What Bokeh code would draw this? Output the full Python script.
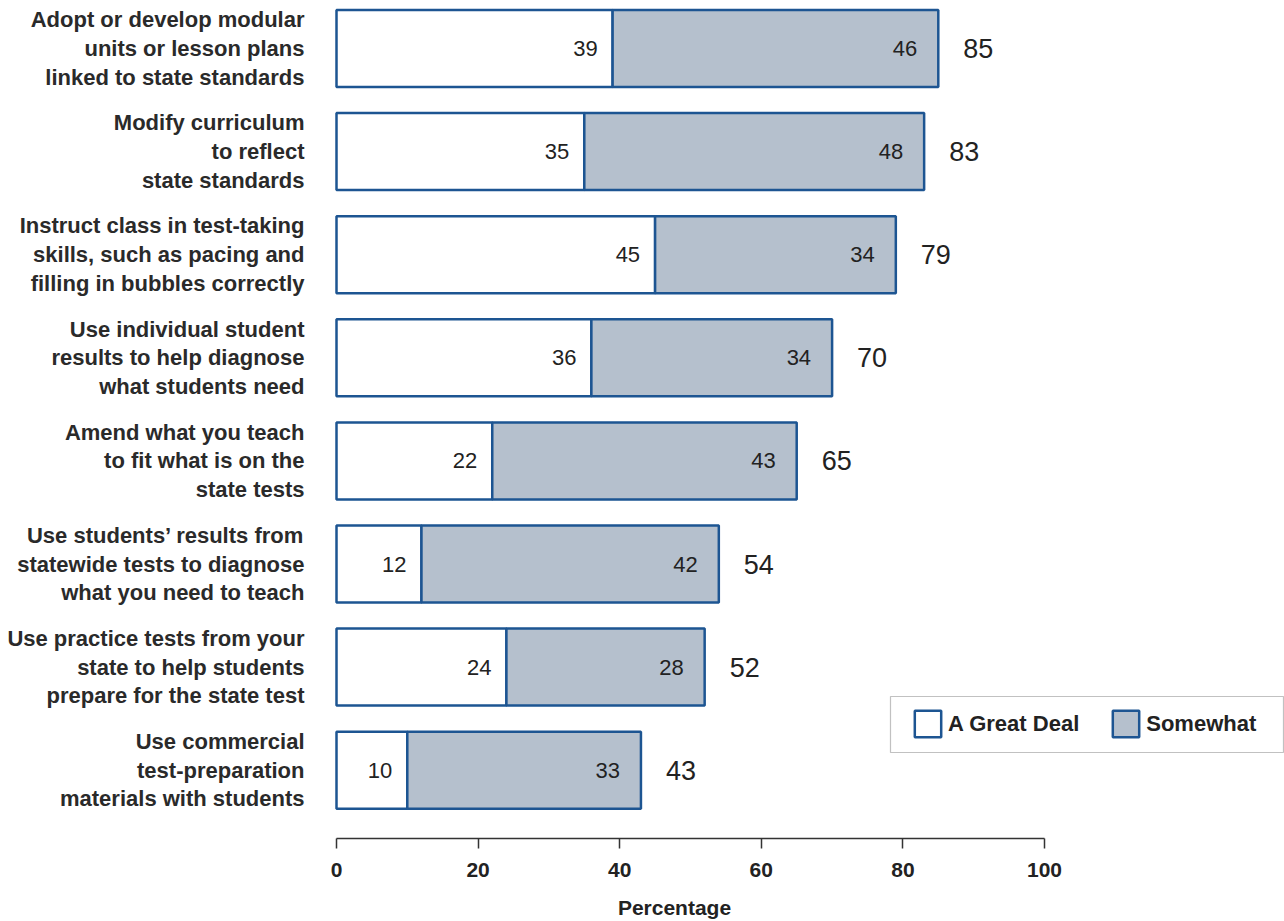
from bokeh.plotting import figure
from bokeh.models import (Range1d, FixedTicker, ColumnDataSource, Legend, LegendItem,
                          BoxAnnotation, LinearAxis)
from bokeh.core.properties import value
from bokeh.embed import file_html
from bokeh.resources import INLINE

categories = [
    "Adopt or develop modular\nunits or lesson plans\nlinked to state standards",
    "Modify curriculum\nto reflect\nstate standards",
    "Instruct class in test-taking\nskills, such as pacing and\nfilling in bubbles correctly",
    "Use individual student\nresults to help diagnose\nwhat students need",
    "Amend what you teach\nto fit what is on the\nstate tests",
    "Use students\u2019 results from\nstatewide tests to diagnose\nwhat you need to teach",
    "Use practice tests from your\nstate to help students\nprepare for the state test",
    "Use commercial\ntest-preparation\nmaterials with students",
]
great_deal = [39, 35, 45, 36, 22, 12, 24, 10]
somewhat = [46, 48, 34, 34, 43, 42, 28, 33]
totals = [85, 83, 79, 70, 65, 54, 52, 43]
x_ticks = [0, 20, 40, 60, 80, 100]
x_title = "Percentage"

FONT = "Liberation Sans"
BLUE = "#1d5592"
GREY = "#b5c0cd"
TXT = "#222222"

W, H = 1284, 921
frame_bottom = 838
x0_px, px_per = 336, 7.08
row0_px, row_step = 48, 103.1

rows = list(range(len(categories)))
src = ColumnDataSource(dict(
    y=rows,
    gd=great_deal,
    sw_right=[g + s for g, s in zip(great_deal, somewhat)],
    gd_lbl=[str(v) for v in great_deal],
    sw_lbl=[str(v) for v in somewhat],
    tot=totals,
    tot_lbl=[str(v) for v in totals],
    cat=categories,
    zero=[0] * len(rows),
))

x_start = -x0_px / px_per
x_end = (W - x0_px) / px_per
y_top = -row0_px / row_step
y_bot = (frame_bottom - row0_px) / row_step

def px_to_x(px):
    return (px - x0_px) / px_per

def px_to_y(py):
    return (py - row0_px) / row_step

p = figure(width=W, height=H, output_backend="svg", toolbar_location=None,
           x_range=Range1d(x_start, x_end), y_range=Range1d(y_bot, y_top),
           y_axis_location=None, min_border_left=0, min_border_right=0,
           min_border_top=0, min_border_bottom=H - frame_bottom)
p.outline_line_color = None
p.grid.visible = False
p.background_fill_color = "white"
p.border_fill_color = "white"

bh = 77 / row_step
r1 = p.hbar(y="y", left="zero", right="gd", height=bh, source=src,
            fill_color="white", line_color=BLUE, line_width=2.5)
r2 = p.hbar(y="y", left="gd", right="sw_right", height=bh, source=src,
            fill_color=GREY, line_color=BLUE, line_width=2.5)

p.text(x="gd", y="y", text="gd_lbl", source=src, x_offset=-15,
       text_align="right", text_baseline="middle", text_font=value(FONT),
       text_font_size="22px", text_color=TXT)
p.text(x="sw_right", y="y", text="sw_lbl", source=src, x_offset=-21,
       text_align="right", text_baseline="middle", text_font=value(FONT),
       text_font_size="22px", text_color=TXT)
p.text(x="tot", y="y", text="tot_lbl", source=src, x_offset=25,
       text_align="left", text_baseline="middle", text_font=value(FONT),
       text_font_size="27px", text_color=TXT)
p.text(x="zero", y="y", text="cat", source=src, x_offset=-32,
       text_align="right", text_baseline="middle", text_font=value(FONT),
       text_font_size="22px", text_font_style="bold", text_color="#2a2a2a",
       text_line_height=1.15)

ax = p.xaxis[0]
ax.ticker = FixedTicker(ticks=x_ticks)
ax.bounds = (0, 100)
ax.minor_tick_line_color = None
ax.major_tick_out = 10
ax.major_tick_in = 0
ax.major_label_standoff = 14
ax.axis_line_color = "#333333"
ax.axis_line_width = 1.5
ax.major_tick_line_color = "#333333"
ax.major_tick_line_width = 1.5
ax.major_label_text_font = FONT
ax.major_label_text_font_size = "21px"
ax.major_label_text_font_style = "bold"
ax.major_label_text_color = TXT

# second, bare axis whose single tick label is the axis title,
# centred slightly left of the scale's middle as in the source
title_pos = px_to_x(674)
title_ax = LinearAxis(ticker=FixedTicker(ticks=[title_pos]),
                      major_label_overrides={title_pos: x_title},
                      axis_line_color=None, major_tick_line_color=None,
                      minor_tick_line_color=None, major_tick_out=0, major_tick_in=0,
                      minor_tick_out=0, minor_tick_in=0, major_label_standoff=16,
                      major_label_text_font=FONT, major_label_text_font_size="21px",
                      major_label_text_font_style="bold", major_label_text_color=TXT)
p.add_layout(title_ax, "below")

# legend frame
p.add_layout(BoxAnnotation(left=px_to_x(890), right=px_to_x(1283),
                           top=px_to_y(696), bottom=px_to_y(752),
                           fill_color="white", fill_alpha=1,
                           line_color="#333333", line_width=1.2, level="overlay"))

legend = Legend(items=[LegendItem(label="A Great Deal", renderers=[r1]),
                       LegendItem(label="Somewhat", renderers=[r2])],
                orientation="horizontal", location=(911, frame_bottom - 740),
                glyph_width=33, glyph_height=33, label_standoff=4, spacing=30,
                padding=12, margin=0,
                label_text_font=FONT, label_text_font_size="22px",
                label_text_font_style="bold",
                label_text_color=TXT,
                border_line_color=None,
                background_fill_alpha=0)
p.add_layout(legend, "center")

open("out.html", "w").write(file_html(p, INLINE))
